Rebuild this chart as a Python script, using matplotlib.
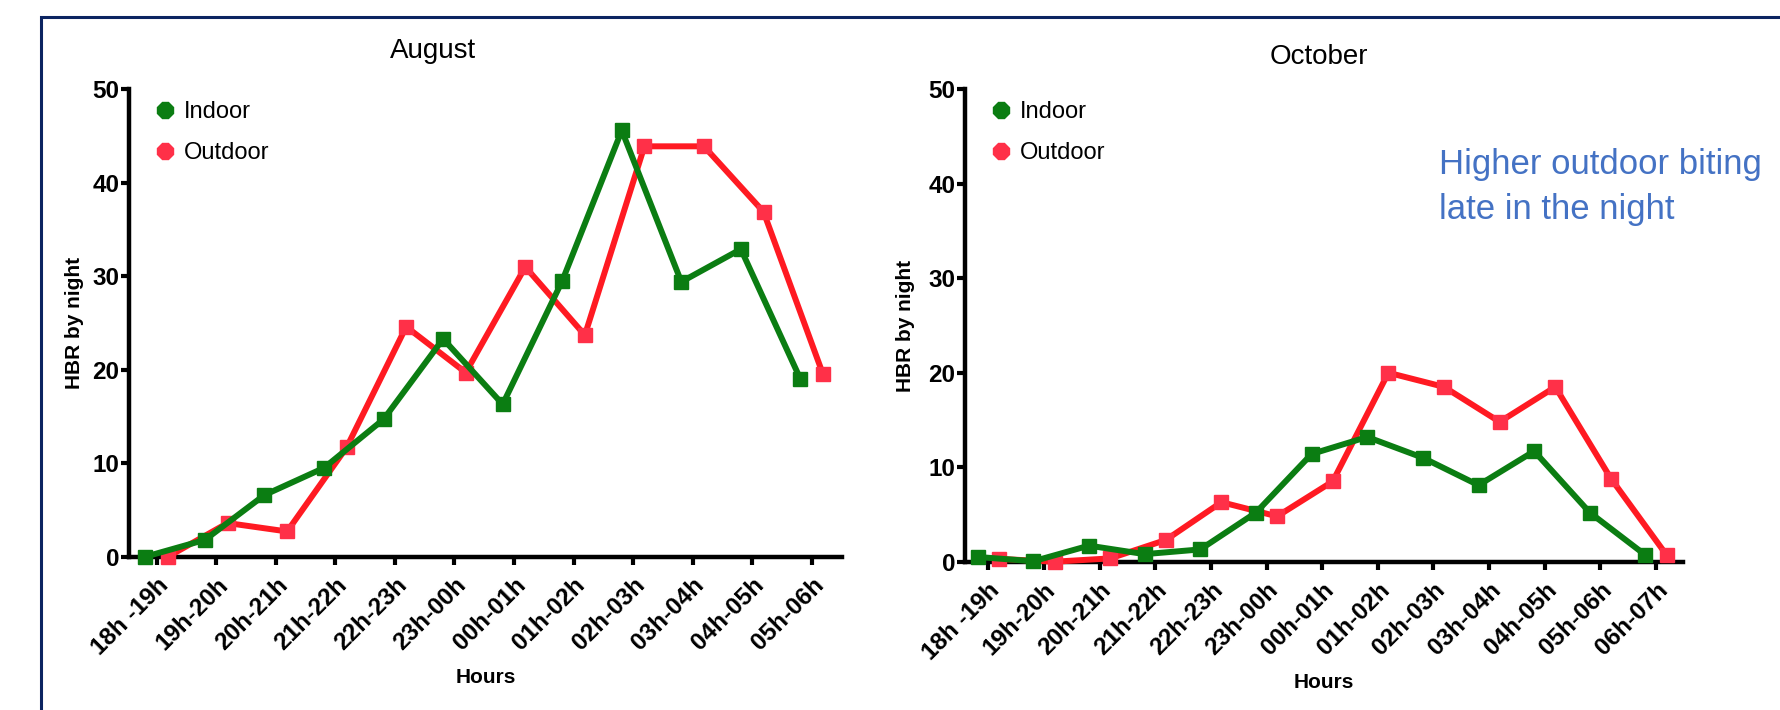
import matplotlib
matplotlib.use("Agg")
import matplotlib.pyplot as plt
import matplotlib.transforms as mtransforms
from matplotlib.lines import Line2D
import numpy as np

plt.rcParams["font.family"] = ["Liberation Sans", "DejaVu Sans"]

# Hourly human biting rate (HBR by night), indoor vs outdoor
aug_hours = ["18h -19h", "19h-20h", "20h-21h", "21h-22h", "22h-23h", "23h-00h",
             "00h-01h", "01h-02h", "02h-03h", "03h-04h", "04h-05h", "05h-06h"]
aug_indoor = [0.0, 1.8, 6.6, 9.5, 14.7, 23.3, 16.3, 29.5, 45.6, 29.4, 32.9, 19.0]
aug_outdoor = [0.0, 3.6, 2.7, 11.7, 24.6, 19.7, 31.0, 23.7, 43.9, 43.9, 36.9, 19.5]

oct_hours = ["18h -19h", "19h-20h", "20h-21h", "21h-22h", "22h-23h", "23h-00h",
             "00h-01h", "01h-02h", "02h-03h", "03h-04h", "04h-05h", "05h-06h", "06h-07h"]
oct_indoor = [0.5, 0.05, 1.7, 0.8, 1.3, 5.2, 11.4, 13.2, 11.0, 8.1, 11.7, 5.2, 0.7]
oct_outdoor = [0.3, 0.0, 0.35, 2.3, 6.3, 4.8, 8.5, 20.0, 18.5, 14.8, 18.5, 8.8, 0.7]

GREEN = "#0B7D12"
RED = "#FF1A22"
RED_MARK = "#FF3048"
NAVY = "#0C2461"
BLUE_NOTE = "#4472C4"

W, H = 1780, 710
fig = plt.figure(figsize=(W / 100, H / 100), dpi=100)


def px_rect(left, top, right, bottom):
    return [left / W, 1 - bottom / H, (right - left) / W, (bottom - top) / H]


# frame around the slide
fig.add_artist(Line2D([40.7 / W, 40.7 / W, 1.0], [0.0, 1 - 16.7 / H, 1 - 16.7 / H],
                      transform=fig.transFigure, color=NAVY, lw=2.2,
                      solid_joinstyle="miter"))


def panel(rect, hours, indoor, outdoor, xlim, ylab_x, xlab_y, leg_anchor):
    ax = fig.add_axes(rect)
    x = np.arange(len(hours))
    dx = 0.19
    ax.plot(x + dx, outdoor, color=RED, lw=4.3, marker="s", ms=10,
            mfc=RED_MARK, mec=RED_MARK, clip_on=False, zorder=3)
    ax.plot(x - dx, indoor, color=GREEN, lw=4.3, marker="s", ms=10,
            mfc=GREEN, mec=GREEN, clip_on=False, zorder=4)
    ax.set_xlim(*xlim)
    ax.set_ylim(0, 50)
    ax.set_yticks(range(0, 51, 10))
    ax.set_xticks(x)
    ax.set_xticklabels(hours, rotation=45, ha="right", rotation_mode="anchor",
                       fontsize=17.5, fontweight="bold")
    for lab in ax.get_xticklabels():
        lab.set_transform(lab.get_transform() +
                          mtransforms.ScaledTranslation(7 / 100, 0, fig.dpi_scale_trans))
    for lab in ax.get_yticklabels():
        lab.set_fontweight("bold")
    ax.tick_params(axis="both", width=3, length=6, direction="out", labelsize=17.5,
                   color="black")
    ax.tick_params(axis="y", pad=1)
    ax.tick_params(axis="x", pad=6)
    for s in ("top", "right"):
        ax.spines[s].set_visible(False)
    for s in ("left", "bottom"):
        ax.spines[s].set_linewidth(3.2)
    ax.set_ylabel("HBR by night", fontsize=15, fontweight="bold")
    ax.yaxis.set_label_coords(ylab_x, 0.5)
    ax.set_xlabel("Hours", fontsize=15, fontweight="bold")
    ax.xaxis.set_label_coords(0.5, xlab_y)
    handles = [
        Line2D([], [], ls="none", marker="8", ms=12, color=GREEN, label="Indoor"),
        Line2D([], [], ls="none", marker="8", ms=12, color=RED_MARK, label="Outdoor"),
    ]
    ax.legend(handles=handles, loc="upper left", bbox_to_anchor=leg_anchor,
              frameon=False, fontsize=17, borderpad=0, handlelength=1.0,
              handletextpad=0.3, labelspacing=0.82, borderaxespad=0)
    return ax


ax1 = panel(px_rect(129, 89.3, 841.7, 556.7), aug_hours, aug_indoor, aug_outdoor,
            (-0.465, 11.503), -0.063, -0.238, (0.034, 0.975))
ax2 = panel(px_rect(965, 89.3, 1683.3, 561.7), oct_hours, oct_indoor, oct_outdoor,
            (-0.419, 12.49), -0.069, -0.236, (0.034, 0.975))

fig.text(433 / W, 1 - 51 / H, "August", ha="center", va="center", fontsize=20)
fig.text(1319 / W, 1 - 57 / H, "October", ha="center", va="center", fontsize=20)
fig.text(1439 / W, 1 - 187 / H, "Higher outdoor biting\nlate in the night",
         ha="left", va="center", color=BLUE_NOTE, fontsize=25, linespacing=1.45)

fig.savefig("out.png", dpi=100, facecolor="white")
